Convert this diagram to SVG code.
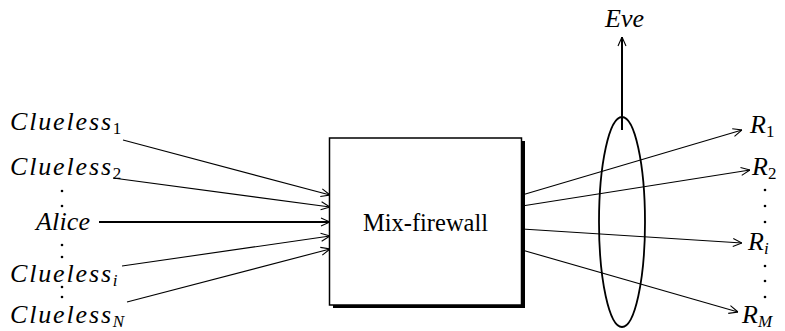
<svg xmlns="http://www.w3.org/2000/svg" width="785" height="331" viewBox="0 0 785 331">
<style>
.lbl{font-family:"Liberation Serif","Times New Roman",serif;font-style:italic;font-size:26px;fill:#000}
.sub{font-size:17px;font-style:normal}
.subi{font-size:17px;font-style:italic}
.ln{stroke:#000;stroke-width:1.1;fill:none;marker-end:url(#ah)}
.thk{stroke:#000;stroke-width:2;fill:none;marker-end:url(#ah)}
.dot{fill:#000}
.box{font-family:"Liberation Serif","Times New Roman",serif;font-size:24.5px}
</style>
<defs>
<marker id="ah" viewBox="0 0 10 10" refX="10" refY="5" markerWidth="10" markerHeight="10" markerUnits="userSpaceOnUse" orient="auto">
<path d="M1,1 L10,5 L1,9" fill="none" stroke="#000" stroke-width="1.1"/>
</marker>
</defs>
<g id="connectors">
<line class="ln" x1="123" y1="140" x2="330" y2="195"/>
<line class="ln" x1="113" y1="178" x2="330" y2="207"/>
<line class="thk" x1="99" y1="222" x2="330" y2="222"/>
<line class="ln" x1="122" y1="266" x2="330" y2="236"/>
<line class="ln" x1="127" y1="302" x2="330" y2="249"/>
<line class="ln" x1="522" y1="195" x2="742" y2="130"/>
<line class="ln" x1="522" y1="206" x2="750" y2="170"/>
<line class="ln" x1="522" y1="229" x2="742" y2="243"/>
<line class="ln" x1="522" y1="250" x2="738" y2="312"/>
<line class="thk" x1="622" y1="130" x2="622" y2="37"/>
</g>
<g id="mix-firewall">
<rect x="333" y="141" width="192" height="167" fill="#000"/>
<rect x="329.5" y="138" width="192" height="167" fill="#fff" stroke="#000" stroke-width="1.5"/>
<text class="box" x="425.5" y="231" text-anchor="middle">Mix-firewall</text>
</g>
<g id="eve-tap">
<ellipse cx="622" cy="222" rx="23" ry="105" fill="none" stroke="#000" stroke-width="1.8"/>
</g>
<g id="eve"><text class="lbl" x="605" y="27" font-size="24">Eve</text></g>
<g id="clueless1"><text class="lbl" x="10" y="130"><tspan textLength="101" lengthAdjust="spacing">Clueless</tspan><tspan class="sub" dy="4">1</tspan></text></g>
<g id="clueless2"><text class="lbl" x="10" y="175"><tspan textLength="101" lengthAdjust="spacing">Clueless</tspan><tspan class="sub" dy="4">2</tspan></text></g>
<g id="alice"><text class="lbl" x="36" y="230" textLength="54" lengthAdjust="spacing">Alice</text></g>
<g id="cluelessi"><text class="lbl" x="10" y="282"><tspan textLength="101" lengthAdjust="spacing">Clueless</tspan><tspan class="subi" dy="4">i</tspan></text></g>
<g id="cluelessN"><text class="lbl" x="10" y="323"><tspan textLength="101" lengthAdjust="spacing">Clueless</tspan><tspan class="subi" dy="4">N</tspan></text></g>
<g id="r1"><text class="lbl" x="750" y="133">R<tspan class="sub" dy="4">1</tspan></text></g>
<g id="r2"><text class="lbl" x="752" y="175">R<tspan class="sub" dy="4">2</tspan></text></g>
<g id="ri"><text class="lbl" x="748" y="250">R<tspan class="subi" dy="4">i</tspan></text></g>
<g id="rM"><text class="lbl" x="742" y="323">R<tspan class="subi" dy="4">M</tspan></text></g>
<g id="dots">
<circle class="dot" cx="62" cy="191" r="1.3"/>
<circle class="dot" cx="62" cy="206" r="1.3"/>
<circle class="dot" cx="62" cy="245" r="1.3"/>
<circle class="dot" cx="62" cy="257" r="1.3"/>
<circle class="dot" cx="62" cy="287" r="1.3"/>
<circle class="dot" cx="62" cy="297" r="1.3"/>
<circle class="dot" cx="765" cy="190" r="1.3"/>
<circle class="dot" cx="765" cy="206" r="1.3"/>
<circle class="dot" cx="765" cy="222" r="1.3"/>
<circle class="dot" cx="765" cy="266" r="1.3"/>
<circle class="dot" cx="765" cy="281" r="1.3"/>
<circle class="dot" cx="765" cy="297" r="1.3"/>
</g>
</svg>
